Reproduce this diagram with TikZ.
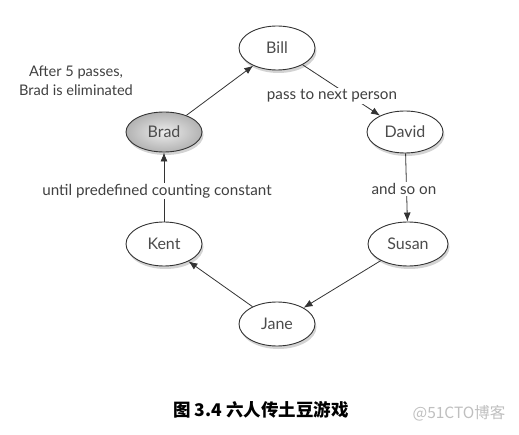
\documentclass[tikz,border=0pt]{standalone}
\usepackage{fontspec}
\setmainfont{Lato}
\newfontfamily\cjk{Noto Sans CJK SC}
\usetikzlibrary{shapes.geometric,shadows,arrows.meta}
\begin{document}
\begin{tikzpicture}[x=1pt,y=-1pt,
  person/.style={ellipse,draw=black!80,line width=0.9pt,minimum width=76pt,minimum height=44pt,
    inner sep=0pt,fill=white,font=\fontsize{16}{18}\selectfont,text=black!70,
    drop shadow={opacity=0.35,shadow xshift=1.5pt,shadow yshift=-3pt}},
  edge/.style={draw=black!80,line width=0.8pt,-{Latex[length=9pt,width=7pt]}},
  lab/.style={font=\fontsize{15.2}{17}\selectfont,text=black!75,fill=white,inner sep=1.5pt},
]
\useasboundingbox (0,0) rectangle (519,435);
\node[person] (bill) at (277,48) {Bill};
\node[person,fill=none,inner color=gray!15,outer color=gray!60,minimum height=40pt] (brad) at (164,132) {Brad};
\node[person,minimum height=42pt] (david) at (405,132) {David};
\node[person] (kent) at (164,244) {Kent};
\node[person,minimum width=80pt] (susan) at (408,244) {Susan};
\node[person] (jane) at (277,324) {Jane};

\draw[edge] (brad) -- (bill);
\draw[edge] (bill) -- (david);
\draw[edge] (david) -- (susan);
\draw[edge] (susan) -- (jane);
\draw[edge] (jane) -- (kent);
\draw[edge] (kent) -- (brad);

\node[lab] (l1) at (332,96) {pass to next person};
\node[lab] (l2) at (404,189) {and so on};
\node[lab] (l3) at (157,191) {until predefined counting constant};
\node[lab,fill=none,align=center,font=\fontsize{14.6}{18.5}\selectfont] (l4) at (76,81) {After 5 passes,\\Brad is eliminated};

\node[font=\cjk\bfseries\fontsize{17.5}{20}\selectfont] (cap) at (261,410) {图 3.4 六人传土豆游戏};
\node[font=\cjk\fontsize{15.5}{17}\selectfont,text=black!25] (wm) at (459,413) {@51CTO博客};
\end{tikzpicture}
\end{document}
